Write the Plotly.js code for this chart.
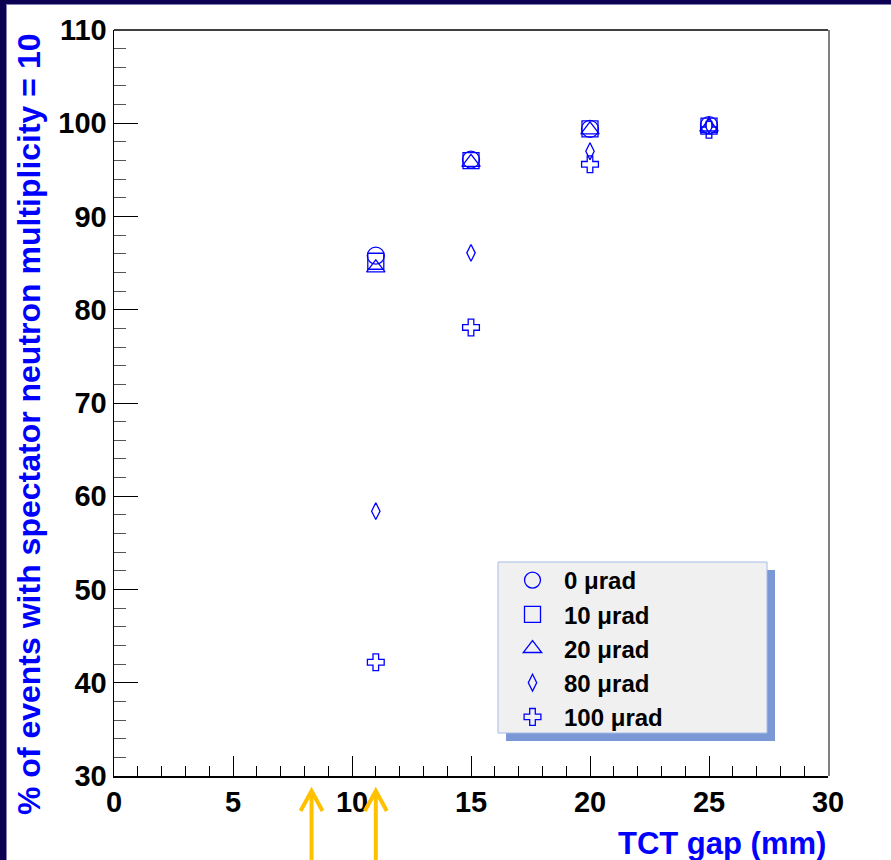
<!DOCTYPE html>
<html>
<head>
<meta charset="utf-8">
<script src="https://cdn.plot.ly/plotly-3.0.1.min.js"></script>
<style>
html,body{margin:0;padding:0;background:#fff;}
#chart{width:891px;height:860px;}
</style>
</head>
<body>
<div id="chart"></div>
<script>
// ---- data ----
const gaps = [11, 15, 20, 25];
const seriesNames = ["0 \u03bcrad", "10 \u03bcrad", "20 \u03bcrad", "80 \u03bcrad", "100 \u03bcrad"];
const pct0   = [85.8, 96.1, 99.4, 99.8];
const pct10  = [85.2, 96.0, 99.4, 99.7];
const pct20  = [84.5, 95.8, 99.3, 99.6];
const pct80  = [58.4, 86.1, 97.0, 99.8];
const pct100 = [42.2, 78.1, 95.6, 99.3];
const arrowGaps = [8.3, 11];
const xTitle = "TCT gap (mm)";
const yTitle = "% of events with spectator neutron multiplicity = 10";

const symbols = ["circle-open", "square-open", "triangle-up-open", "diamond-tall-open", "cross-open"];
const sizes = [17, 16, 16, 12, 14];
const allSeries = [pct0, pct10, pct20, pct80, pct100];

const blue = "#0000ff";
const fontFam = "'Liberation Sans', Arial, Helvetica, sans-serif";

const traces = allSeries.map((vals, i) => ({
  type: "scatter",
  mode: "markers",
  x: gaps,
  y: vals,
  name: seriesNames[i],
  legendgroup: "g" + i,
  marker: {symbol: symbols[i], size: sizes[i], color: blue, line: {color: blue, width: 1.3}},
  cliponaxis: false
}));

// pixel helpers for decorations (paper coords)
const L = 114, R = 828, T = 30, B = 776;
const px = p => (p - L) / (R - L);
const py = p => (B - p) / (B - T);

const shapes = [
  // frame bars
  {type: "rect", xref: "paper", yref: "paper", x0: px(0), x1: px(6), y0: py(860), y1: py(0), fillcolor: "#0c0052", line: {width: 0}, layer: "above"},
  {type: "rect", xref: "paper", yref: "paper", x0: px(0), x1: px(891), y0: py(4), y1: py(0), fillcolor: "#0c0052", line: {width: 0}, layer: "above"},
  {type: "line", xref: "paper", yref: "paper", x0: px(6.5), x1: px(6.5), y0: py(860), y1: py(4), line: {color: "#8080b4", width: 1}, layer: "above"},
  {type: "line", xref: "paper", yref: "paper", x0: px(6), x1: px(891), y0: py(4.5), y1: py(4.5), line: {color: "#8080b4", width: 1}, layer: "above"},
  // right frame grey line
  {type: "line", xref: "paper", yref: "paper", x0: px(829), x1: px(829), y0: py(776), y1: py(30), line: {color: "#808080", width: 2}, layer: "above"},
  // top frame line
  {type: "line", xref: "paper", yref: "paper", x0: 0, x1: 1, y0: 1, y1: 1, line: {color: "#000", width: 1.5}, layer: "above"},
  // legend shadow and box
  {type: "rect", xref: "paper", yref: "paper", x0: px(506), x1: px(775), y0: py(741), y1: py(570), fillcolor: "#7b98d6", line: {width: 0}, layer: "above"},
  {type: "rect", xref: "paper", yref: "paper", x0: px(498), x1: px(767), y0: py(733), y1: py(562), fillcolor: "#f0f0f0", line: {color: "#a8bce4", width: 1}, layer: "above"}
];

arrowGaps.forEach(g => {
  shapes.push({type: "line", xref: "x", yref: "paper", x0: g, x1: g, y0: py(860), y1: py(791), line: {color: "#ffc000", width: 4}, layer: "above"});
  const dx = 11 / 23.8;
  shapes.push({type: "path", xref: "x", yref: "paper",
    path: `M ${g - dx} ${py(811)} L ${g} ${py(791)} L ${g + dx} ${py(811)}`,
    line: {color: "#ffc000", width: 4}, layer: "above"});
});

const layout = {
  width: 891, height: 860,
  margin: {l: L, r: 891 - R, t: T, b: 860 - B},
  paper_bgcolor: "#ffffff",
  plot_bgcolor: "#ffffff",
  font: {family: fontFam, color: "#000"},
  showlegend: true,
  legend: {
    x: px(501), y: py(558), xanchor: "left", yanchor: "top",
    bgcolor: "rgba(0,0,0,0)", borderwidth: 0,
    font: {family: fontFam, size: 24, weight: "bold", color: "#000"},
    tracegroupgap: 0, itemwidth: 53
  },
  xaxis: {
    range: [0, 30], dtick: 5, tick0: 0,
    ticks: "inside", ticklen: 20, tickwidth: 1, tickcolor: "#000",
    minor: {dtick: 1, ticks: "inside", ticklen: 10, tickcolor: "#000", tickwidth: 1},
    showline: true, linecolor: "#000", linewidth: 1.5, mirror: false,
    showgrid: false, zeroline: false,
    tickfont: {family: fontFam, size: 29, weight: "bold", color: "#000"}
  },
  yaxis: {
    range: [30, 110], dtick: 10, tick0: 30,
    ticks: "inside", ticklen: 24, tickwidth: 1, tickcolor: "#000",
    minor: {dtick: 2, ticks: "inside", ticklen: 12, tickcolor: "#555", tickwidth: 1},
    showline: true, linecolor: "#000", linewidth: 1.5, mirror: false,
    showgrid: false, zeroline: false,
    tickfont: {family: fontFam, size: 29, weight: "bold", color: "#000"}
  },
  shapes: shapes,
  annotations: [
    {text: xTitle, xref: "paper", yref: "paper", x: 1, y: py(843), xanchor: "right", yanchor: "middle",
     showarrow: false, font: {family: fontFam, size: 31, weight: "bold", color: blue}},
    {text: yTitle, xref: "paper", yref: "paper", x: px(29), y: py(425), xanchor: "center", yanchor: "middle",
     textangle: -90, showarrow: false, font: {family: fontFam, size: 32, weight: "bold", color: blue}}
  ]
};

Plotly.newPlot("chart", traces, layout, {displayModeBar: false, staticPlot: true});
</script>
</body>
</html>
